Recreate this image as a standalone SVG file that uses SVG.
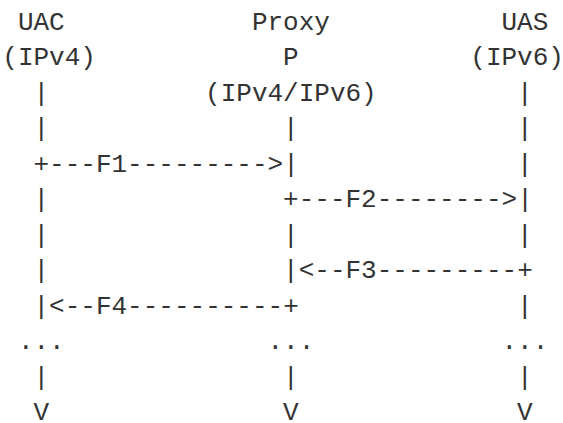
<svg xmlns="http://www.w3.org/2000/svg" width="563" height="423" viewBox="0 0 563 423">
<style>
text{font-family:"Liberation Mono","DejaVu Sans Mono",monospace;font-size:26px;fill:#333}
</style>
<rect width="563" height="423" fill="#fff"/>
<g id="node-uac">
<text x="17.9" y="30">UAC</text>
<text x="2.3" y="65.45">(IPv4)</text>
</g>
<g id="node-proxy">
<text x="251.9" y="30">Proxy</text>
<text x="283.1" y="65.45">P</text>
<text x="205.1" y="100.9">(IPv4/IPv6)</text>
</g>
<g id="node-uas">
<text x="501.5" y="30">UAS</text>
<text x="470.3" y="65.45">(IPv6)</text>
</g>
<g id="lifelines">
<text x="33.5" y="100.9">|</text>
<text x="517.1" y="100.9">|</text>
<text x="33.5" y="136.35">|</text>
<text x="283.1" y="136.35">|</text>
<text x="517.1" y="136.35">|</text>
<text x="517.1" y="171.8">|</text>
<text x="33.5" y="207.25">|</text>
<text x="33.5" y="242.7">|</text>
<text x="283.1" y="242.7">|</text>
<text x="517.1" y="242.7">|</text>
<text x="33.5" y="278.15">|</text>
<text x="517.1" y="313.6">|</text>
<text x="17.9" y="349.05">...</text>
<text x="267.5" y="349.05">...</text>
<text x="501.5" y="349.05">...</text>
<text x="33.5" y="384.5">|</text>
<text x="283.1" y="384.5">|</text>
<text x="517.1" y="384.5">|</text>
<text x="33.5" y="419.95">V</text>
<text x="283.1" y="419.95">V</text>
<text x="517.1" y="419.95">V</text>
</g>
<g id="connectors">
<text id="F1" x="33.5" y="171.8">+---F1---------&gt;|</text>
<text id="F2" x="283.1" y="207.25">+---F2--------&gt;|</text>
<text id="F3" x="283.1" y="278.15">|&lt;--F3---------+</text>
<text id="F4" x="33.5" y="313.6">|&lt;--F4----------+</text>
</g>
</svg>
